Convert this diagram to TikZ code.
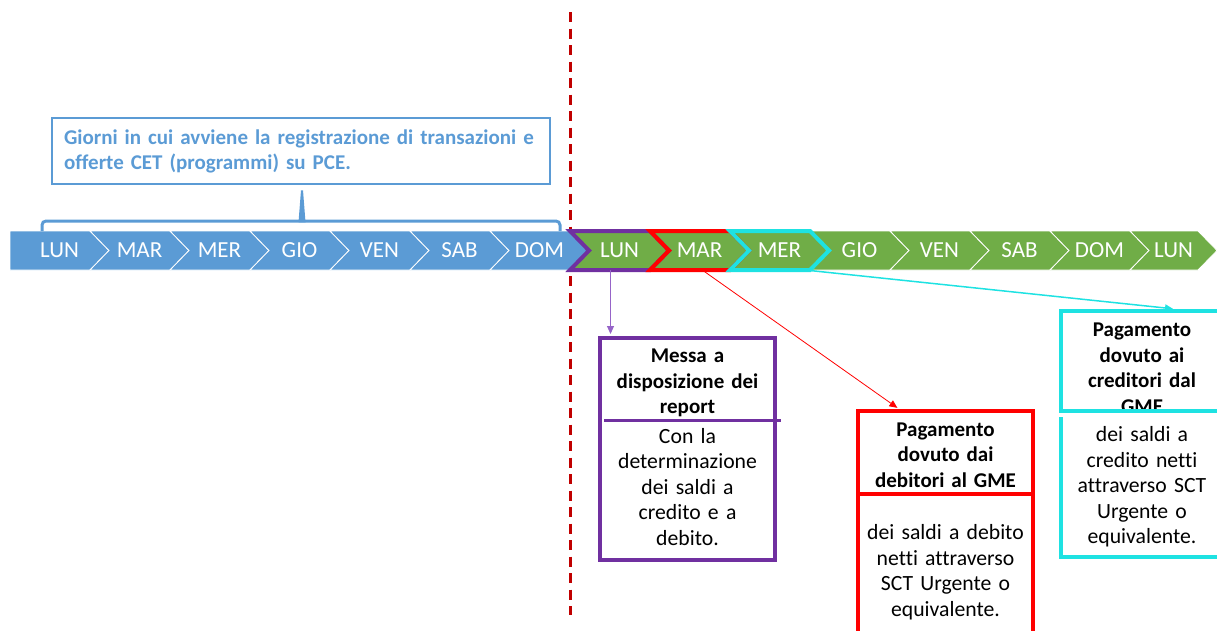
\documentclass[tikz,border=0pt]{standalone}
\usepackage{fontspec}
\setmainfont{Carlito}[Ligatures=NoCommon]
\usetikzlibrary{arrows.meta,positioning}

\definecolor{dayblue}{RGB}{91,155,213}
\definecolor{daygreen}{RGB}{112,173,71}
\definecolor{repviolet}{RGB}{112,48,160}
\definecolor{replight}{RGB}{150,100,200}
\definecolor{payred}{RGB}{255,0,0}
\definecolor{paycyan}{RGB}{30,226,226}
\definecolor{cutred}{RGB}{192,0,0}

\begin{document}
\begin{tikzpicture}[x=1pt,y=-1pt,>={Triangle[length=8pt,width=7pt]},
  day/.style={text=white,font=\fontsize{23}{27}\selectfont,minimum height=39pt,inner sep=0pt},
  cut line/.style={cutred,line width=3pt,dash pattern=on 10pt off 6.5pt},
  note box/.style={draw=dayblue,line width=2.5pt,text=dayblue,font=\bfseries\fontsize{21}{25}\selectfont,align=left,text width=474pt,minimum width=498pt,minimum height=66pt,inner xsep=12pt},
  box/.style={draw,line width=4pt,fill=white,minimum width=175pt},
  box title/.style={font=\bfseries\fontsize{21}{25.5}\selectfont,align=center,text width=170pt,inner sep=0pt},
  box text/.style={font=\fontsize{21.7}{25.5}\selectfont,align=center,text width=170pt,inner sep=0pt}]

  \useasboundingbox (0,0) rectangle (1217,630);

  \draw[cut line] (570,12) -- (570,615);

  % days before the cut
  \foreach \d [count=\i from 0] in {LUN,MAR,MER,GIO,VEN,SAB,DOM}{
    \pgfmathsetmacro\xl{10+80*\i}
    \pgfmathsetmacro\xr{90+80*\i}
    \pgfmathsetmacro\nl{\i==0 ? 0 : 19}
    \filldraw[fill=dayblue,draw=white,line width=0.8pt] (\xl,231) -- (\xr,231) -- (\xr+19,250.5) -- (\xr,270) -- (\xl,270) -- (\xl+\nl,250.5) -- cycle;
    \node[day] (b\i) at (\xl/2+\xr/2+9.5,250.5) {\d};
  }

  % days after the cut
  \foreach \d [count=\i] in {LUN,MAR,MER,GIO,VEN,SAB,DOM,LUN}{
    \pgfmathsetmacro\xl{490+80*\i}
    \pgfmathsetmacro\xr{\i==8 ? 1198 : 570+80*\i}
    \filldraw[fill=daygreen,draw=white,line width=0.8pt] (\xl,231) -- (\xr,231) -- (\xr+19,250.5) -- (\xr,270) -- (\xl,270) -- (\xl+19,250.5) -- cycle;
    \node[day] (g\i) at (\xl/2+\xr/2+9.5,250.5) {\d};
  }
  \foreach \c [count=\i] in {repviolet,payred,paycyan}{
    \pgfmathsetmacro\xl{490+80*\i}
    \pgfmathsetmacro\xr{570+80*\i}
    \draw[\c,line width=4pt] (\xl,231) -- (\xr,231) -- (\xr+19,250.5) -- (\xr,270) -- (\xl,270) -- (\xl+19,250.5) -- cycle;
  }

  \node[note box] (note) at (301,151) {Giorni in cui avviene la registrazione di transazioni e\\offerte CET (programmi) su PCE.};
  \draw[dayblue,line width=3pt,rounded corners=4pt] (42,231) -- (42,221) -- (560,221) -- (560,231);
  \fill[dayblue] ([shift={(0,5)}]note.south) -- ++(2,0) -- ++(2.5,32) -- ++(-7,0) -- cycle;

  % reports
  \node[box,draw=repviolet,minimum height=222pt] (report) at (687.5,449) {};
  \node[box title] (reportT) at (687.5,383) {Messa a\\disposizione dei\\report};
  \draw[repviolet,line width=3pt] ([shift={(6,84)}]report.north west) -- ([shift={(4,84)}]report.north east);
  \node[box text] (reportB) at (687.5,487) {Con la\\determinazione\\dei saldi a\\credito e a\\debito.};

  % debit payment
  \node[box,draw=payred,minimum height=232pt] (debit) at (945.5,527) {};
  \node[box title] (debitT) at (945.5,455) {Pagamento\\dovuto dai\\debitori al GME};
  \draw[payred,line width=4pt] ([yshift=-85pt]debit.north west) -- ([yshift=-85pt]debit.north east);
  \node[box text] (debitB) at (945.5,572) {dei saldi a debito\\netti attraverso\\SCT Urgente o\\equivalente.};

  % credit payment
  \node[box,draw=paycyan,minimum width=162pt,minimum height=246pt] (credit) at (1142,434) {};
  \node[box title] (creditT) at (1142,368.5) {Pagamento\\dovuto ai\\creditori dal\\GME};
  \fill[white] ([yshift=-102pt]credit.north west) rectangle ([yshift=-108pt]credit.north east);
  \draw[paycyan,line width=4pt] ([yshift=-102pt]credit.north west) -- ([yshift=-102pt]credit.north east);
  \node[box text] (creditB) at (1142,487) {dei saldi a\\credito netti\\attraverso SCT\\Urgente o\\equivalente.};

  \draw[->,replight,line width=1pt,shorten >=2pt] ([xshift=-9pt]g1.south) -- ([xshift=-9pt]g1.south |- report.north);
  \draw[->,payred,line width=0.8pt,shorten >=2pt] ([xshift=3pt]g2.south) -- ([xshift=43pt]debit.north west);
  \draw[->,paycyan,line width=1.5pt,shorten >=2pt] ([xshift=27.5pt]g3.south) -- ([xshift=116pt]credit.north west);
\end{tikzpicture}
\end{document}
